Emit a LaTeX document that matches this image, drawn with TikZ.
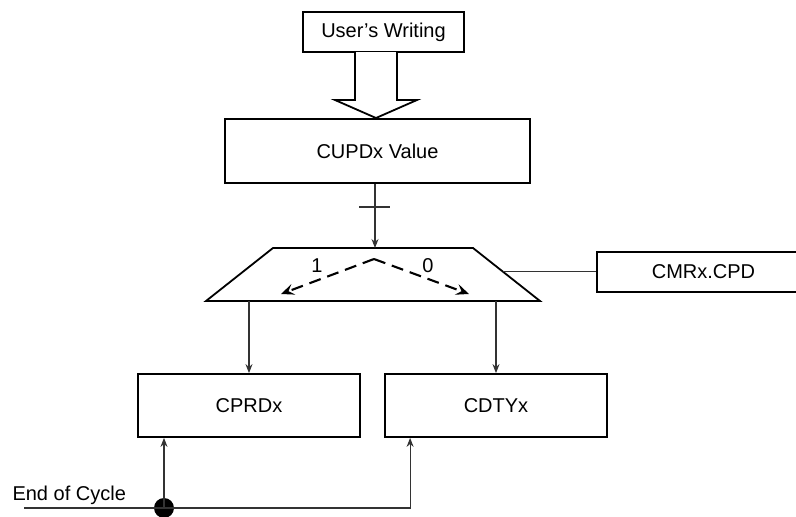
\documentclass[tikz,border=0pt]{standalone}
\usepackage{fontspec}
\setmainfont{Liberation Sans}
\usetikzlibrary{arrows.meta,calc}
\begin{document}
\begin{tikzpicture}[x=1pt, y=-1pt, >={Stealth[length=9pt,width=7pt]},
    box/.style={draw, line width=1.8pt, inner sep=0pt, font=\fontsize{20}{24}\selectfont},
    wire/.style={line width=1.1pt, draw=black!80},
    choice/.style={line width=2.1pt, dash pattern=on 12pt off 7pt, -{Stealth[length=13pt,width=11pt,inset=5pt]}},
    lbl/.style={font=\fontsize{20}{24}\selectfont}]
    \useasboundingbox (0,0) rectangle (796,517);
    \node[box, minimum width=161, minimum height=40] (write) at (383.5,32) {User’s Writing};
    \node[box, minimum width=305, minimum height=64] (cupd) at (377.5,151) {CUPDx Value};
    \node[box, minimum width=213, minimum height=40] (cmr) at (703.5,272) {CMRx.CPD};
    \node[box, minimum width=222, minimum height=63] (cprd) at (249,405.5) {CPRDx};
    \node[box, minimum width=222, minimum height=63] (cdty) at (496,405.5) {CDTYx};
    % selector
    \coordinate (muxtl) at (273,248);
    \coordinate (muxtr) at (473,248);
    \coordinate (muxbr) at (540,301);
    \coordinate (muxbl) at (206,301);
    \coordinate (muxin) at (375,248);
    \coordinate (muxsel) at ($(muxtr)!0.45!(muxbr)$);
    \draw[line width=1.8pt, line join=miter] (muxtl) -- (muxtr) -- (muxbr) -- (muxbl) -- cycle;
    % hollow write arrow
    \coordinate (tip) at (376,118);
    \draw[line width=1.8pt, fill=white] (355,52) -- (355,100) -- (335,100)
      -- (tip) -- (417,100) -- (397,100) -- (397,52);
    % value into selector
    \draw[wire,->] (cupd.south -| muxin) -- (muxin);
    \draw[wire] (359,207) -- (390,207);
    % selector inside
    \coordinate (apex) at (374,259);
    \coordinate (pick1) at (281,294);
    \coordinate (pick0) at (469,294);
    \draw[choice] (apex) -- (pick1);
    \draw[choice] (apex) -- (pick0);
    \node[lbl] (one) at (317,266) {1};
    \node[lbl] (zero) at (428,266) {0};
    \draw[wire] (muxsel) -- (muxsel -| cmr.west);
    % outputs
    \draw[wire,->] (muxbl -| cprd.north) -- (cprd.north);
    \draw[wire,->] (muxbl -| cdty.north) -- (cdty.north);
    % end of cycle
    \coordinate (eoc) at (24,508);
    \node[circle, fill, inner sep=0pt, minimum size=20] (join) at (164,508) {};
    \node[lbl, anchor=west] (eoclbl) at (9,495) {End of Cycle};
    \draw[wire,->] (eoc) -| ([xshift=26]cdty.south west);
    \draw[wire,->] (join.center) -- (join |- cprd.south);
\end{tikzpicture}
\end{document}
